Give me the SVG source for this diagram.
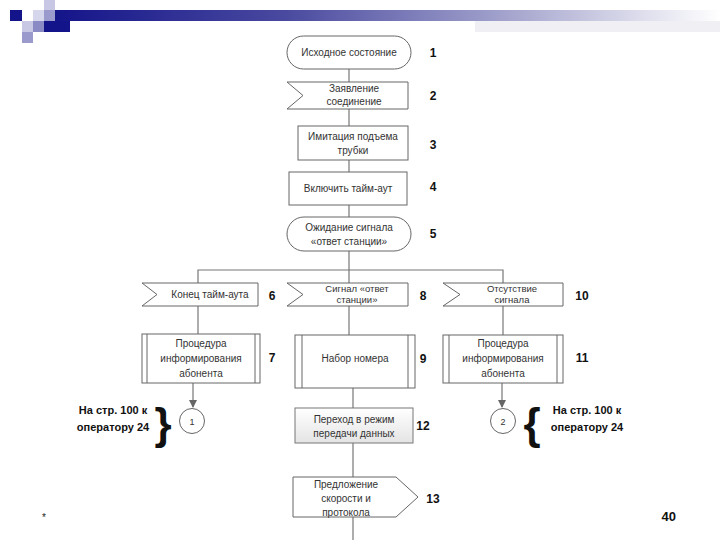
<svg xmlns="http://www.w3.org/2000/svg" width="720" height="540" viewBox="0 0 720 540">
<defs>
<linearGradient id="bar" x1="0" y1="0" x2="1" y2="0">
<stop offset="0" stop-color="#14148a"/>
<stop offset="0.35" stop-color="#4a4aa0"/>
<stop offset="0.7" stop-color="#a9a9d0"/>
<stop offset="1" stop-color="#ffffff"/>
</linearGradient>
<linearGradient id="shade" x1="0" y1="0" x2="0" y2="1">
<stop offset="0" stop-color="#ffffff"/>
<stop offset="1" stop-color="#e4e4e4"/>
</linearGradient>
<marker id="arr" markerWidth="8" markerHeight="8" refX="7" refY="4" orient="auto" markerUnits="userSpaceOnUse">
<path d="M0,0 L8,4 L0,8 z" fill="#666"/>
</marker>
<style>
.n{fill:#fff;stroke:#666;stroke-width:1}
.c{fill:none;stroke:#777;stroke-width:1.2}
.t{font-family:"Liberation Sans",Arial,sans-serif;font-size:10px;fill:#333;text-anchor:middle}
.num{font-family:"Liberation Sans",Arial,sans-serif;font-size:12px;font-weight:bold;fill:#111;text-anchor:middle}
.b{font-family:"Liberation Sans",Arial,sans-serif;font-size:11px;font-weight:bold;fill:#111;text-anchor:middle}
</style>
</defs>
<g id="header">
<rect x="54" y="10" width="666" height="11" fill="url(#bar)"/>
<rect x="475" y="21" width="245" height="11" fill="#f0f0f4"/>
<rect x="10" y="10" width="12" height="11" fill="#14148a"/>
<rect x="44" y="0" width="11" height="11" fill="#c8c8e4"/>
<rect x="33" y="10" width="11" height="11" fill="#d6d6ec"/>
<rect x="44" y="10" width="11" height="11" fill="#9a9acc"/>
<rect x="22" y="21" width="11" height="11" fill="#c8c8e4"/>
<rect x="33" y="21" width="11" height="11" fill="#8a8ac4"/>
<rect x="44" y="21" width="26" height="11" fill="#14148a"/>
<rect x="22" y="32" width="11" height="11" fill="#9a9acc"/>
</g>
<g id="connectors">
<line class="c" x1="349" y1="69" x2="349" y2="82"/>
<line class="c" x1="349" y1="109" x2="349" y2="126"/>
<line class="c" x1="349" y1="160" x2="349" y2="172"/>
<line class="c" x1="349" y1="205" x2="349" y2="217"/>
<line class="c" x1="349" y1="251" x2="349" y2="283"/>
<polyline class="c" points="198,283 198,270 503,270 503,283"/>
<line class="c" x1="198" y1="306" x2="198" y2="334"/>
<line class="c" x1="349" y1="306" x2="349" y2="335"/>
<line class="c" x1="503" y1="306" x2="503" y2="335"/>
<line class="c" x1="193" y1="383" x2="193" y2="407" marker-end="url(#arr)"/>
<line class="c" x1="502" y1="383" x2="502" y2="407" marker-end="url(#arr)"/>
<line class="c" x1="353" y1="388" x2="353" y2="408"/>
<line class="c" x1="353" y1="443" x2="353" y2="477"/>
<line class="c" x1="353" y1="517" x2="353" y2="540"/>
</g>
<g id="n1">
<rect class="n" x="287" y="36" width="124" height="33" rx="16.5"/>
<text class="t" x="349" y="55.5">Исходное состояние</text>
<text class="num" x="433" y="57">1</text>
</g>
<g id="n2">
<polygon class="n" points="287,82 408,82 408,109 287,109 303,95.5"/>
<text class="t" x="354" y="92">Заявление</text>
<text class="t" x="354" y="105">соединение</text>
<text class="num" x="433" y="100">2</text>
</g>
<g id="n3">
<rect class="n" x="298" y="126" width="110" height="34"/>
<text class="t" x="353" y="140">Имитация подъема</text>
<text class="t" x="353" y="154">трубки</text>
<text class="num" x="433" y="149">3</text>
</g>
<g id="n4">
<rect class="n" x="289" y="172" width="118" height="33"/>
<text class="t" x="348" y="192">Включить тайм-аут</text>
<text class="num" x="433" y="191">4</text>
</g>
<g id="n5">
<rect class="n" x="287" y="217" width="124" height="34" rx="17"/>
<text class="t" x="349" y="231">Ожидание сигнала</text>
<text class="t" x="349" y="245">«ответ станции»</text>
<text class="num" x="433" y="238">5</text>
</g>
<g id="n6">
<polygon class="n" points="142,283 258,283 258,306 142,306 157,294.5"/>
<text class="t" x="210" y="298">Конец тайм-аута</text>
<text class="num" x="272" y="300">6</text>
</g>
<g id="n7">
<rect class="n" x="142" y="334" width="118" height="49"/>
<line class="n" x1="147" y1="334" x2="147" y2="383"/>
<line class="n" x1="255" y1="334" x2="255" y2="383"/>
<text class="t" x="201" y="347">Процедура</text>
<text class="t" x="201" y="362">информирования</text>
<text class="t" x="201" y="377">абонента</text>
<text class="num" x="272" y="362">7</text>
</g>
<g id="n8">
<polygon class="n" points="287,283 408,283 408,306 287,306 303,294.5"/>
<text class="t" x="357" y="292" style="font-size:9.5px">Сигнал «ответ</text>
<text class="t" x="357" y="303" style="font-size:9.5px">станции»</text>
<text class="num" x="423" y="300">8</text>
</g>
<g id="n9">
<rect class="n" x="295" y="335" width="120" height="53"/>
<line class="n" x1="302" y1="335" x2="302" y2="388"/>
<line class="n" x1="408" y1="335" x2="408" y2="388"/>
<text class="t" x="355" y="362">Набор номера</text>
<text class="num" x="423" y="363">9</text>
</g>
<g id="n10">
<polygon class="n" points="443,283 563,283 563,306 443,306 460,294.5"/>
<text class="t" x="512" y="292" style="font-size:9.5px">Отсутствие</text>
<text class="t" x="512" y="303" style="font-size:9.5px">сигнала</text>
<text class="num" x="582" y="300">10</text>
</g>
<g id="n11">
<rect class="n" x="443" y="335" width="120" height="48"/>
<line class="n" x1="449" y1="335" x2="449" y2="383"/>
<line class="n" x1="557" y1="335" x2="557" y2="383"/>
<text class="t" x="503" y="347">Процедура</text>
<text class="t" x="503" y="362">информирования</text>
<text class="t" x="503" y="377">абонента</text>
<text class="num" x="582" y="362">11</text>
</g>
<g id="c1">
<circle class="n" cx="192" cy="421" r="12.5"/>
<text class="t" x="192" y="424.5" style="font-size:9px">1</text>
</g>
<g id="note1">
<text class="b" x="113" y="414">На стр. 100 к</text>
<text class="b" x="113" y="431">оператору 24</text>
<text x="163" y="439" style="font-family:'Liberation Sans',Arial,sans-serif;font-size:44px;font-weight:bold;fill:#111;text-anchor:middle">}</text>
</g>
<g id="c2">
<circle class="n" cx="503" cy="421" r="12.5"/>
<text class="t" x="503" y="424.5" style="font-size:9px">2</text>
</g>
<g id="note2">
<text x="532" y="439" style="font-family:'Liberation Sans',Arial,sans-serif;font-size:44px;font-weight:bold;fill:#111;text-anchor:middle">{</text>
<text class="b" x="587" y="414">На стр. 100 к</text>
<text class="b" x="587" y="431">оператору 24</text>
</g>
<g id="n12">
<rect x="295" y="408" width="118" height="35" fill="url(#shade)" stroke="#777" stroke-width="1"/>
<text class="t" x="354" y="423">Переход в режим</text>
<text class="t" x="354" y="437">передачи данных</text>
<text class="num" x="423" y="430">12</text>
</g>
<g id="n13">
<polygon class="n" points="293,477 396,477 418,497 396,517 293,517"/>
<text class="t" x="346" y="488">Предложение</text>
<text class="t" x="346" y="502">скорости и</text>
<text class="t" x="346" y="516">протокола</text>
<text class="num" x="433" y="503">13</text>
</g>
<g id="footer">
<text x="44" y="521" style="font-family:'Liberation Sans',Arial,sans-serif;font-size:10px;fill:#222;text-anchor:middle">*</text>
<text x="676" y="521" style="font-family:'Liberation Sans',Arial,sans-serif;font-size:13px;font-weight:bold;fill:#111;text-anchor:end">40</text>
</g>
</svg>
